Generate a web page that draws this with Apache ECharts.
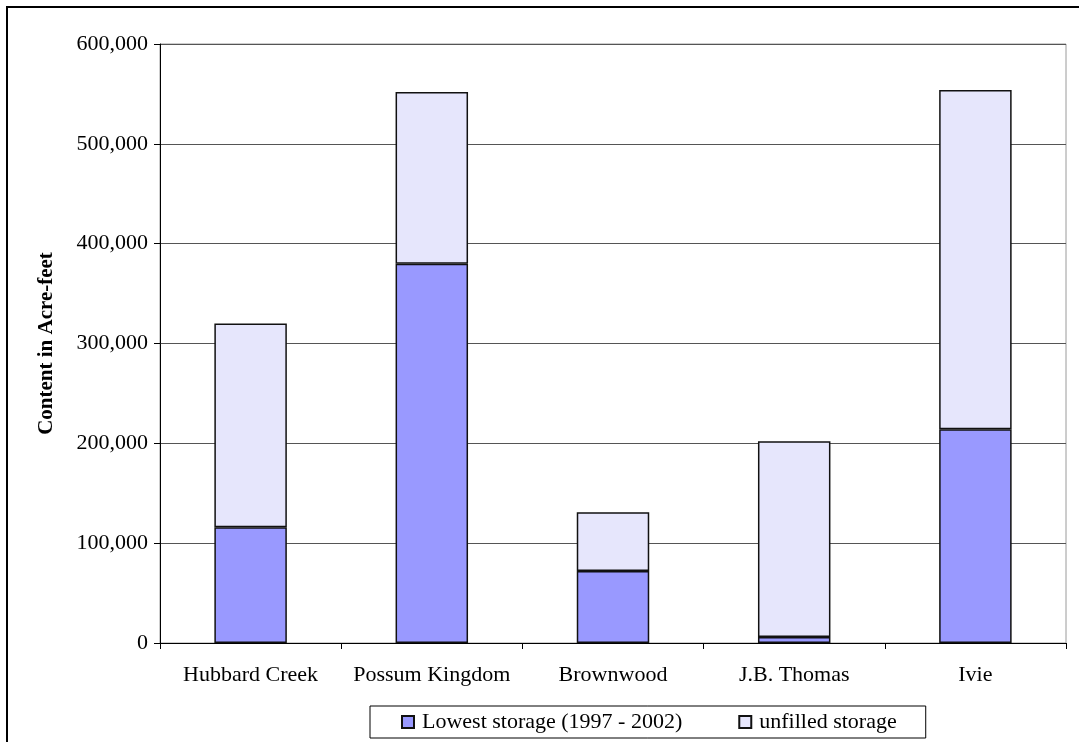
<!DOCTYPE html>
<html>
<head>
<meta charset="utf-8">
<script src="https://cdn.jsdelivr.net/npm/echarts@6/dist/echarts.min.js"></script>
<style>
  html, body { margin: 0; padding: 0; background: #fff; }
  #chart { width: 1079px; height: 742px; }
</style>
</head>
<body>
<div id="chart"></div>
<script>
// Reservoir storage, acre-feet
const reservoirs = ['Hubbard Creek', 'Possum Kingdom', 'Brownwood', 'J.B. Thomas', 'Ivie'];
const lowestStorage = [116000, 380000, 72000, 6000, 214000];
const unfilledStorage = [204000, 172000, 59000, 196000, 340000];
const seriesNames = ['Lowest storage (1997 - 2002)', 'unfilled storage'];
const yTicks = { min: 0, max: 600000, interval: 100000 };

const serif = '"Liberation Serif", "Times New Roman", serif';
const chart = echarts.init(document.getElementById('chart'));

chart.setOption({
  animation: false,
  backgroundColor: '#fff',
  textStyle: { fontFamily: serif, color: '#000' },
  graphic: [{
    type: 'rect',
    shape: { x: 7, y: 7, width: 1100, height: 800 },
    style: { fill: 'none', stroke: '#000', lineWidth: 2 },
    silent: true
  }],
  grid: {
    left: 160, top: 44, right: 13, bottom: 99,
    show: true, borderColor: '#9a9a9a', borderWidth: 1, backgroundColor: '#fff'
  },
  legend: {
    left: 370, top: 706,
    padding: [5, 29, 5, 31],
    itemGap: 56,
    itemWidth: 12, itemHeight: 12,
    icon: 'rect',
    borderColor: '#000', borderWidth: 1,
    textStyle: { fontFamily: serif, fontSize: 22, color: '#000', padding: [0, 0, 0, 3] },
    data: seriesNames
  },
  xAxis: {
    type: 'category',
    data: reservoirs,
    axisLine: { lineStyle: { color: '#000', width: 1 } },
    axisTick: { show: true, length: 6, interval: 0, alignWithLabel: false, lineStyle: { color: '#000' } },
    axisLabel: { fontFamily: serif, fontSize: 22, color: '#000', margin: 21, interval: 0 }
  },
  yAxis: {
    type: 'value',
    min: yTicks.min, max: yTicks.max, interval: yTicks.interval,
    name: 'Content in Acre-feet',
    nameLocation: 'middle',
    nameGap: 103,
    nameTextStyle: { fontFamily: serif, fontSize: 21, fontWeight: 'bold', color: '#000' },
    axisLine: { show: true, lineStyle: { color: '#000', width: 1 } },
    axisTick: { show: true, length: 6, lineStyle: { color: '#000' } },
    axisLabel: {
      fontFamily: serif, fontSize: 22, color: '#000', margin: 12,
      formatter: v => v.toLocaleString('en-US')
    },
    splitLine: { show: true, lineStyle: { color: '#555', width: 1 } }
  },
  series: [
    {
      name: seriesNames[0],
      type: 'bar',
      stack: 'total',
      barWidth: '40%',
      data: lowestStorage,
      itemStyle: { color: '#9999ff', borderColor: '#111', borderWidth: 1.5 }
    },
    {
      name: seriesNames[1],
      type: 'bar',
      stack: 'total',
      barWidth: '40%',
      data: unfilledStorage,
      itemStyle: { color: '#e6e6fc', borderColor: '#111', borderWidth: 1.5 }
    }
  ]
});
</script>
</body>
</html>
